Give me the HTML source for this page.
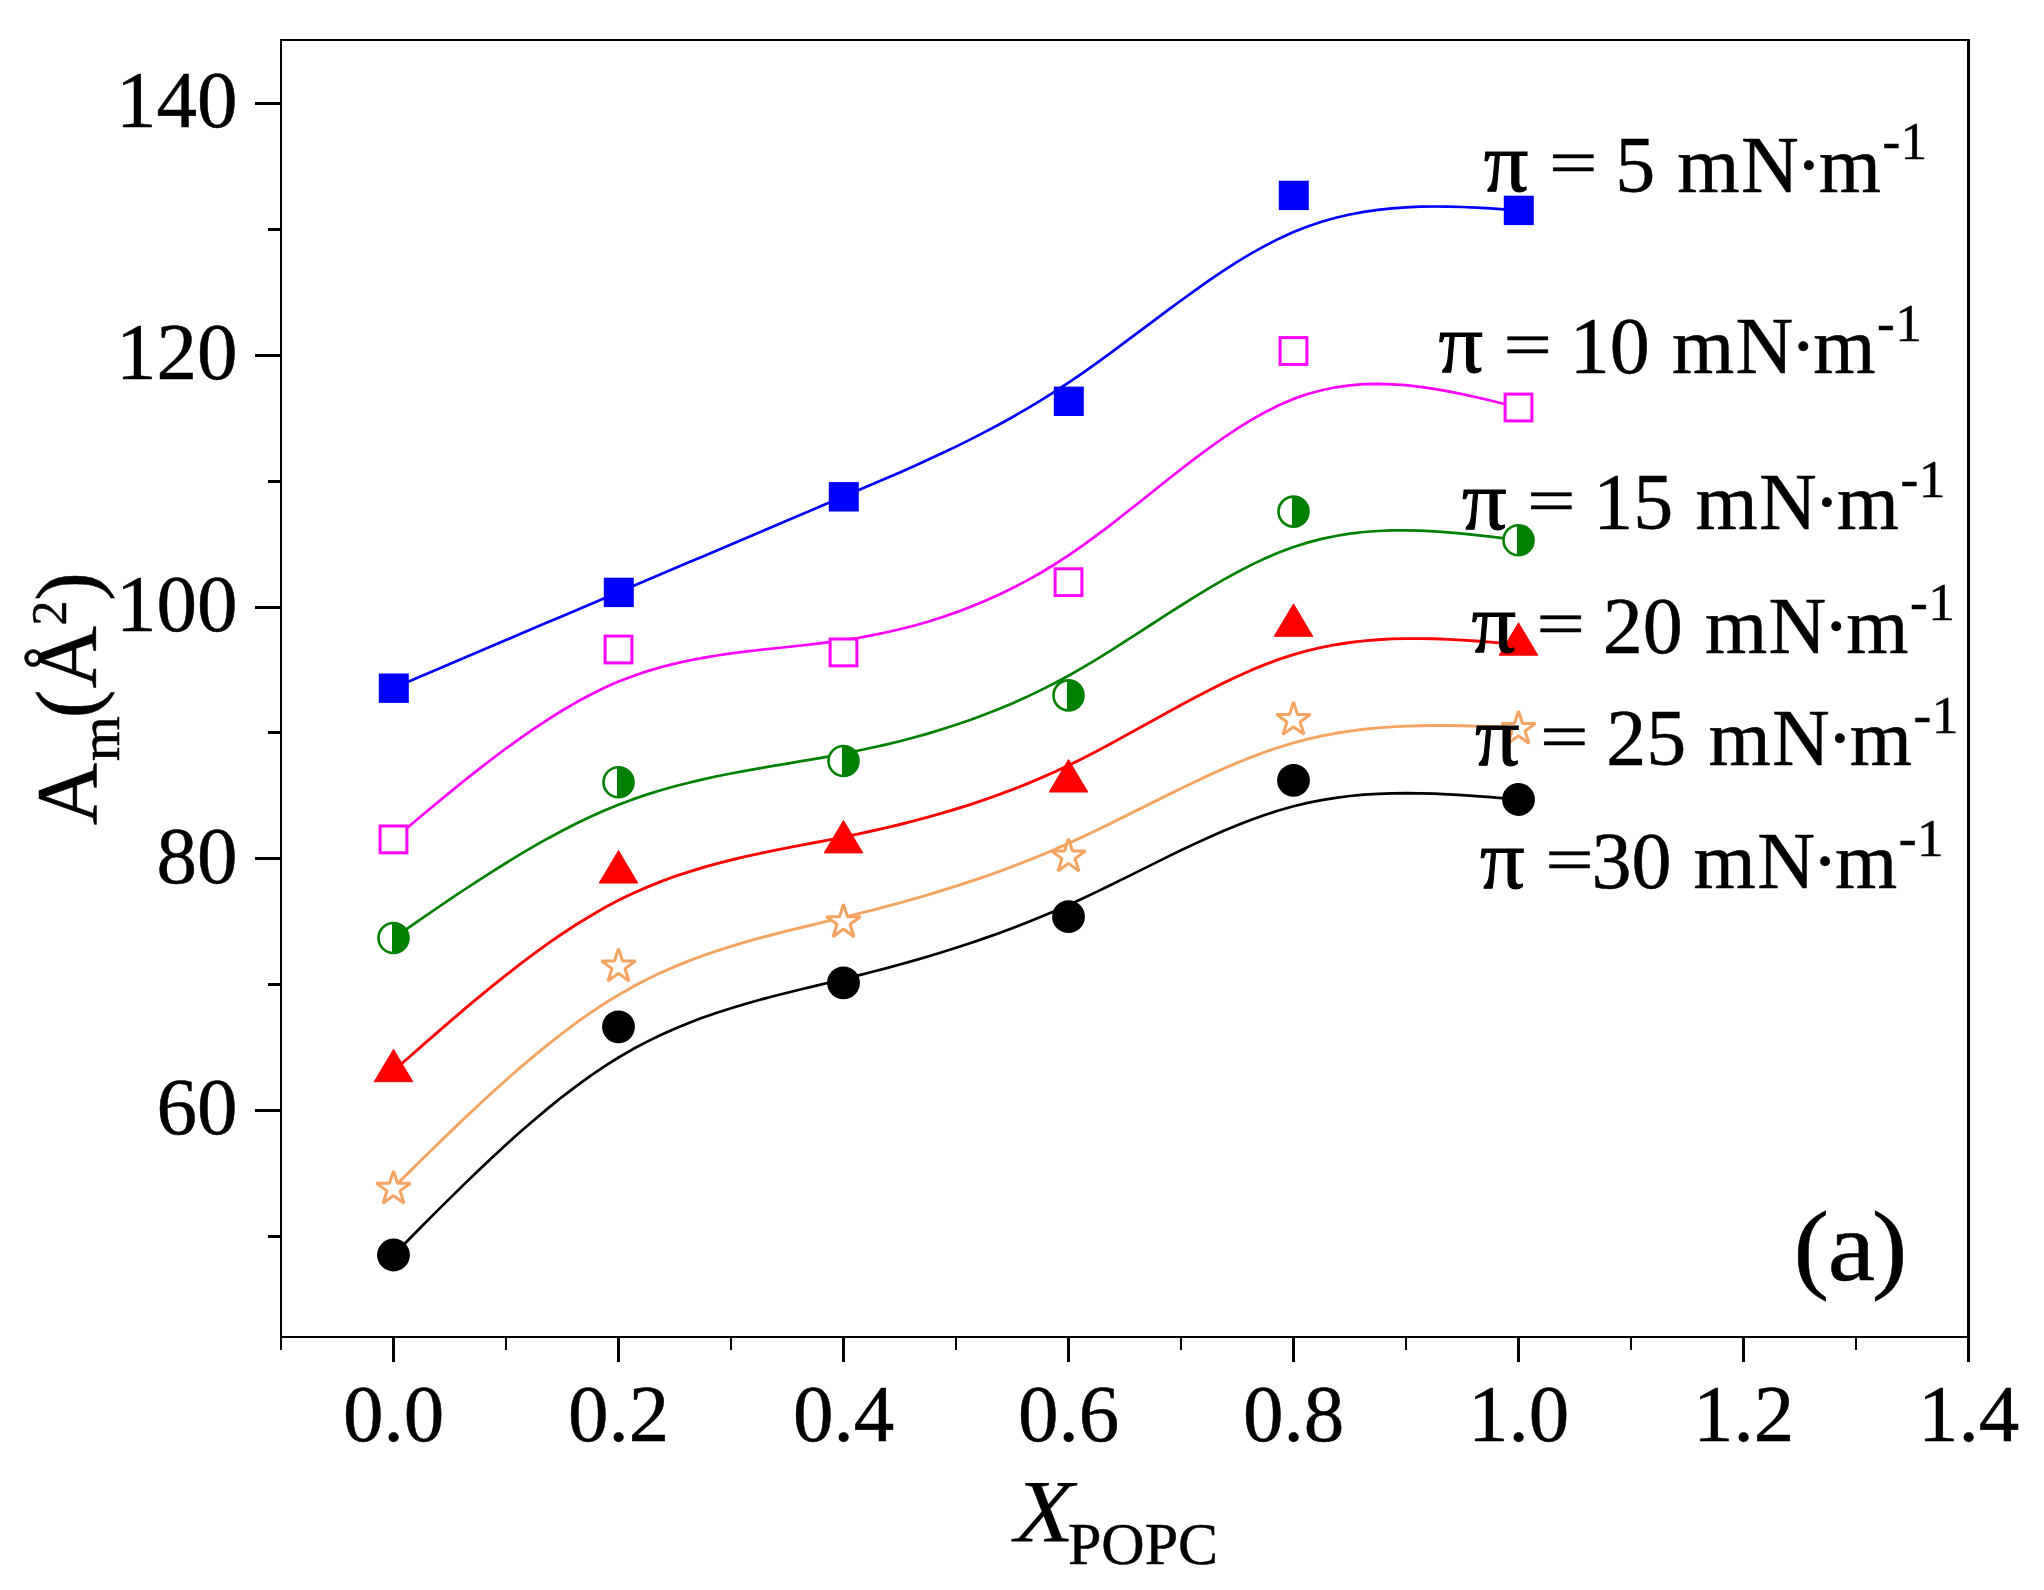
<!DOCTYPE html>
<html lang="en"><head><meta charset="utf-8"><title>Am vs XPOPC</title>
<style>html,body{margin:0;padding:0;background:#fff}body{width:2044px;height:1590px;overflow:hidden}svg{display:block}text{font-family:"Liberation Serif",serif;fill:#000;stroke:#000;stroke-width:.5px}</style></head><body>
<svg width="2044" height="1590" viewBox="0 0 2044 1590">
<rect width="2044" height="1590" fill="#fff"/>
<g fill="#000" shape-rendering="crispEdges">
<rect x="280" y="39" width="2" height="1299"/>
<rect x="280" y="39" width="1690" height="2"/>
<rect x="1967" y="39" width="3" height="1299"/>
<rect x="280" y="1336" width="1690" height="2"/>
<rect x="268" y="1234.9" width="13" height="3"/>
<rect x="255" y="1109.0" width="26" height="3"/>
<rect x="268" y="983.1" width="13" height="3"/>
<rect x="255" y="857.2" width="26" height="3"/>
<rect x="268" y="731.4" width="13" height="3"/>
<rect x="255" y="605.5" width="26" height="3"/>
<rect x="268" y="479.6" width="13" height="3"/>
<rect x="255" y="353.8" width="26" height="3"/>
<rect x="268" y="227.9" width="13" height="3"/>
<rect x="255" y="102.0" width="26" height="3"/>
<rect x="280.0" y="1337" width="2" height="13"/>
<rect x="392.0" y="1337" width="3" height="25"/>
<rect x="505.0" y="1337" width="2" height="13"/>
<rect x="617.0" y="1337" width="3" height="25"/>
<rect x="730.0" y="1337" width="2" height="13"/>
<rect x="842.0" y="1337" width="3" height="25"/>
<rect x="955.0" y="1337" width="2" height="13"/>
<rect x="1067.0" y="1337" width="3" height="25"/>
<rect x="1180.0" y="1337" width="2" height="13"/>
<rect x="1292.0" y="1337" width="3" height="25"/>
<rect x="1405.0" y="1337" width="2" height="13"/>
<rect x="1517.0" y="1337" width="3" height="25"/>
<rect x="1630.0" y="1337" width="2" height="13"/>
<rect x="1742.0" y="1337" width="3" height="25"/>
<rect x="1855.0" y="1337" width="2" height="13"/>
<rect x="1967.0" y="1337" width="3" height="25"/>
</g>
<g font-size="81">
<text x="237.5" y="1134.2" text-anchor="end">60</text>
<text x="237.5" y="882.5" text-anchor="end">80</text>
<text x="237.5" y="630.7" text-anchor="end">100</text>
<text x="237.5" y="378.9" text-anchor="end">120</text>
<text x="237.5" y="127.2" text-anchor="end">140</text>
<text x="393.5" y="1440.8" text-anchor="middle">0.0</text>
<text x="618.5" y="1440.8" text-anchor="middle">0.2</text>
<text x="843.5" y="1440.8" text-anchor="middle">0.4</text>
<text x="1068.5" y="1440.8" text-anchor="middle">0.6</text>
<text x="1293.5" y="1440.8" text-anchor="middle">0.8</text>
<text x="1518.5" y="1440.8" text-anchor="middle">1.0</text>
<text x="1743.5" y="1440.8" text-anchor="middle">1.2</text>
<text x="1968.5" y="1440.8" text-anchor="middle">1.4</text>
</g>
<text y="1541" font-size="88"><tspan x="1014.4" font-style="italic" style="stroke-width:.2px" textLength="59.7" lengthAdjust="spacingAndGlyphs">X</tspan><tspan x="1068" dy="23.3" font-size="60">POPC</tspan></text>
<g transform="translate(95.5,824) rotate(-90)"><text font-size="86" x="-0.9" y="0">A<tspan x="62.7" dy="23.8" font-size="58">m</tspan><tspan x="105.7 135.7" dy="-23.8">(Å</tspan><tspan x="198.6" dy="-29.9" font-size="50">2</tspan><tspan x="223.2" dy="29.9">)</tspan></text></g>
<path d="M393.5,688.0 L407.6,682.0 L421.6,676.0 L435.7,670.0 L449.8,664.1 L463.8,658.1 L477.9,652.1 L491.9,646.1 L506.0,640.1 L520.1,634.1 L534.1,628.1 L548.2,622.1 L562.2,616.2 L576.3,610.2 L590.4,604.2 L604.4,598.2 L618.5,592.2 L632.6,586.3 L646.6,580.3 L660.7,574.3 L674.8,568.3 L688.8,562.3 L702.9,556.4 L716.9,550.4 L731.0,544.4 L745.1,538.4 L759.1,532.5 L773.2,526.5 L787.2,520.5 L801.3,514.5 L815.4,508.6 L829.4,502.6 L843.5,496.6 L857.6,490.6 L871.6,484.6 L885.7,478.6 L899.8,472.4 L913.8,466.2 L927.9,459.8 L941.9,453.3 L956.0,446.6 L970.1,439.6 L984.1,432.4 L998.2,425.0 L1012.2,417.2 L1026.3,409.1 L1040.4,400.7 L1054.4,391.9 L1068.5,382.7 L1082.6,373.1 L1096.6,363.1 L1110.7,352.9 L1124.7,342.4 L1138.8,331.9 L1152.9,321.3 L1166.9,310.8 L1181.0,300.5 L1195.1,290.3 L1209.1,280.4 L1223.2,270.9 L1237.2,261.9 L1251.3,253.4 L1265.4,245.6 L1279.4,238.4 L1293.5,232.0 L1307.6,226.5 L1321.6,221.7 L1335.7,217.8 L1349.7,214.5 L1363.8,211.9 L1377.9,209.8 L1391.9,208.3 L1406.0,207.3 L1420.1,206.7 L1434.1,206.5 L1448.2,206.6 L1462.2,207.0 L1476.3,207.6 L1490.4,208.4 L1504.4,209.3 L1518.5,210.2" fill="none" stroke="#0000ff" stroke-width="2.7" stroke-linejoin="round"/>
<path d="M393.5,839.4 L407.6,827.5 L421.6,815.7 L435.7,804.0 L449.8,792.4 L463.8,781.0 L477.9,769.9 L491.9,759.0 L506.0,748.5 L520.1,738.3 L534.1,728.6 L548.2,719.3 L562.2,710.5 L576.3,702.3 L590.4,694.8 L604.4,687.8 L618.5,681.6 L632.6,676.2 L646.6,671.4 L660.7,667.2 L674.8,663.6 L688.8,660.5 L702.9,657.8 L716.9,655.5 L731.0,653.4 L745.1,651.7 L759.1,650.0 L773.2,648.5 L787.2,647.0 L801.3,645.5 L815.4,643.9 L829.4,642.2 L843.5,640.2 L857.6,638.0 L871.6,635.4 L885.7,632.5 L899.8,629.3 L913.8,625.7 L927.9,621.7 L941.9,617.3 L956.0,612.4 L970.1,607.1 L984.1,601.3 L998.2,595.0 L1012.2,588.2 L1026.3,580.9 L1040.4,573.0 L1054.4,564.5 L1068.5,555.4 L1082.6,545.7 L1096.6,535.4 L1110.7,524.8 L1124.7,513.8 L1138.8,502.7 L1152.9,491.5 L1166.9,480.3 L1181.0,469.2 L1195.1,458.4 L1209.1,448.0 L1223.2,438.0 L1237.2,428.6 L1251.3,419.9 L1265.4,412.0 L1279.4,405.0 L1293.5,398.9 L1307.6,394.0 L1321.6,390.2 L1335.7,387.3 L1349.7,385.4 L1363.8,384.2 L1377.9,383.9 L1391.9,384.3 L1406.0,385.2 L1420.1,386.8 L1434.1,388.8 L1448.2,391.3 L1462.2,394.1 L1476.3,397.2 L1490.4,400.5 L1504.4,404.0 L1518.5,407.5" fill="none" stroke="#ff00ff" stroke-width="2.7" stroke-linejoin="round"/>
<path d="M393.5,938.0 L407.6,928.3 L421.6,918.6 L435.7,909.0 L449.8,899.4 L463.8,890.0 L477.9,880.8 L491.9,871.8 L506.0,863.0 L520.1,854.4 L534.1,846.2 L548.2,838.2 L562.2,830.7 L576.3,823.5 L590.4,816.8 L604.4,810.5 L618.5,804.7 L632.6,799.4 L646.6,794.6 L660.7,790.3 L674.8,786.3 L688.8,782.7 L702.9,779.4 L716.9,776.3 L731.0,773.5 L745.1,770.9 L759.1,768.4 L773.2,765.9 L787.2,763.6 L801.3,761.2 L815.4,758.8 L829.4,756.3 L843.5,753.6 L857.6,750.8 L871.6,747.8 L885.7,744.6 L899.8,741.2 L913.8,737.5 L927.9,733.6 L941.9,729.3 L956.0,724.8 L970.1,720.0 L984.1,714.8 L998.2,709.3 L1012.2,703.4 L1026.3,697.1 L1040.4,690.4 L1054.4,683.3 L1068.5,675.7 L1082.6,667.7 L1096.6,659.3 L1110.7,650.6 L1124.7,641.7 L1138.8,632.6 L1152.9,623.5 L1166.9,614.4 L1181.0,605.5 L1195.1,596.7 L1209.1,588.1 L1223.2,579.9 L1237.2,572.2 L1251.3,564.9 L1265.4,558.3 L1279.4,552.3 L1293.5,547.0 L1307.6,542.6 L1321.6,538.9 L1335.7,536.0 L1349.7,533.7 L1363.8,532.0 L1377.9,531.0 L1391.9,530.4 L1406.0,530.3 L1420.1,530.7 L1434.1,531.3 L1448.2,532.3 L1462.2,533.6 L1476.3,535.1 L1490.4,536.7 L1504.4,538.4 L1518.5,540.2" fill="none" stroke="#008000" stroke-width="2.7" stroke-linejoin="round"/>
<path d="M393.5,1070.9 L407.6,1058.5 L421.6,1046.1 L435.7,1033.8 L449.8,1021.7 L463.8,1009.7 L477.9,997.9 L491.9,986.3 L506.0,975.1 L520.1,964.1 L534.1,953.6 L548.2,943.4 L562.2,933.7 L576.3,924.5 L590.4,915.9 L604.4,907.8 L618.5,900.3 L632.6,893.5 L646.6,887.3 L660.7,881.6 L674.8,876.4 L688.8,871.8 L702.9,867.5 L716.9,863.6 L731.0,860.0 L745.1,856.7 L759.1,853.6 L773.2,850.7 L787.2,847.9 L801.3,845.2 L815.4,842.5 L829.4,839.8 L843.5,837.0 L857.6,834.1 L871.6,831.0 L885.7,827.8 L899.8,824.5 L913.8,820.9 L927.9,817.2 L941.9,813.2 L956.0,809.0 L970.1,804.6 L984.1,799.9 L998.2,794.9 L1012.2,789.7 L1026.3,784.1 L1040.4,778.2 L1054.4,772.0 L1068.5,765.4 L1082.6,758.5 L1096.6,751.2 L1110.7,743.7 L1124.7,736.1 L1138.8,728.3 L1152.9,720.5 L1166.9,712.7 L1181.0,705.0 L1195.1,697.5 L1209.1,690.2 L1223.2,683.1 L1237.2,676.5 L1251.3,670.2 L1265.4,664.4 L1279.4,659.2 L1293.5,654.6 L1307.6,650.7 L1321.6,647.4 L1335.7,644.7 L1349.7,642.5 L1363.8,640.9 L1377.9,639.7 L1391.9,638.9 L1406.0,638.6 L1420.1,638.6 L1434.1,638.8 L1448.2,639.4 L1462.2,640.1 L1476.3,641.0 L1490.4,642.1 L1504.4,643.2 L1518.5,644.4" fill="none" stroke="#ff0000" stroke-width="2.9" stroke-linejoin="round"/>
<path d="M393.5,1187.5 L407.6,1173.6 L421.6,1159.8 L435.7,1146.0 L449.8,1132.4 L463.8,1118.9 L477.9,1105.7 L491.9,1092.7 L506.0,1080.1 L520.1,1067.7 L534.1,1055.8 L548.2,1044.3 L562.2,1033.3 L576.3,1022.8 L590.4,1012.9 L604.4,1003.5 L618.5,994.9 L632.6,986.9 L646.6,979.5 L660.7,972.8 L674.8,966.6 L688.8,960.9 L702.9,955.6 L716.9,950.8 L731.0,946.3 L745.1,942.1 L759.1,938.2 L773.2,934.5 L787.2,930.9 L801.3,927.5 L815.4,924.1 L829.4,920.7 L843.5,917.3 L857.6,913.9 L871.6,910.3 L885.7,906.6 L899.8,902.8 L913.8,898.8 L927.9,894.8 L941.9,890.5 L956.0,886.1 L970.1,881.5 L984.1,876.8 L998.2,871.8 L1012.2,866.6 L1026.3,861.2 L1040.4,855.5 L1054.4,849.6 L1068.5,843.4 L1082.6,836.9 L1096.6,830.3 L1110.7,823.4 L1124.7,816.4 L1138.8,809.4 L1152.9,802.4 L1166.9,795.4 L1181.0,788.5 L1195.1,781.7 L1209.1,775.1 L1223.2,768.8 L1237.2,762.8 L1251.3,757.2 L1265.4,751.9 L1279.4,747.1 L1293.5,742.9 L1307.6,739.2 L1321.6,736.0 L1335.7,733.3 L1349.7,731.1 L1363.8,729.3 L1377.9,727.9 L1391.9,726.9 L1406.0,726.1 L1420.1,725.7 L1434.1,725.5 L1448.2,725.5 L1462.2,725.7 L1476.3,726.1 L1490.4,726.5 L1504.4,727.0 L1518.5,727.6" fill="none" stroke="#f4a460" stroke-width="2.9" stroke-linejoin="round"/>
<path d="M393.5,1255.0 L407.6,1240.7 L421.6,1226.5 L435.7,1212.4 L449.8,1198.4 L463.8,1184.6 L477.9,1171.0 L491.9,1157.7 L506.0,1144.7 L520.1,1132.1 L534.1,1119.9 L548.2,1108.1 L562.2,1096.8 L576.3,1086.1 L590.4,1075.9 L604.4,1066.4 L618.5,1057.5 L632.6,1049.3 L646.6,1041.9 L660.7,1035.0 L674.8,1028.7 L688.8,1022.9 L702.9,1017.6 L716.9,1012.7 L731.0,1008.2 L745.1,1004.0 L759.1,1000.0 L773.2,996.3 L787.2,992.7 L801.3,989.3 L815.4,985.9 L829.4,982.5 L843.5,979.1 L857.6,975.6 L871.6,972.0 L885.7,968.4 L899.8,964.5 L913.8,960.6 L927.9,956.5 L941.9,952.2 L956.0,947.8 L970.1,943.2 L984.1,938.4 L998.2,933.4 L1012.2,928.2 L1026.3,922.8 L1040.4,917.1 L1054.4,911.2 L1068.5,905.0 L1082.6,898.5 L1096.6,891.9 L1110.7,885.0 L1124.7,878.1 L1138.8,871.1 L1152.9,864.1 L1166.9,857.1 L1181.0,850.3 L1195.1,843.6 L1209.1,837.2 L1223.2,831.0 L1237.2,825.2 L1251.3,819.7 L1265.4,814.7 L1279.4,810.2 L1293.5,806.2 L1307.6,802.9 L1321.6,800.1 L1335.7,797.8 L1349.7,796.0 L1363.8,794.7 L1377.9,793.8 L1391.9,793.3 L1406.0,793.1 L1420.1,793.3 L1434.1,793.7 L1448.2,794.3 L1462.2,795.1 L1476.3,796.1 L1490.4,797.2 L1504.4,798.3 L1518.5,799.5" fill="none" stroke="#000000" stroke-width="2.7" stroke-linejoin="round"/>
<rect x="378.8" y="673.5" width="30" height="29.4" fill="#0000ff"/>
<rect x="603.8" y="577.7" width="30" height="29.4" fill="#0000ff"/>
<rect x="828.8" y="482.1" width="30" height="29.4" fill="#0000ff"/>
<rect x="1053.8" y="386.6" width="30" height="29.4" fill="#0000ff"/>
<rect x="1278.8" y="180.7" width="30" height="29.4" fill="#0000ff"/>
<rect x="1503.8" y="195.7" width="30" height="29.4" fill="#0000ff"/>
<rect x="380.1" y="826.0" width="26.8" height="26.8" fill="#fff" stroke="#ff00ff" stroke-width="3"/>
<rect x="605.1" y="636.1" width="26.8" height="26.8" fill="#fff" stroke="#ff00ff" stroke-width="3"/>
<rect x="830.1" y="639.0" width="26.8" height="26.8" fill="#fff" stroke="#ff00ff" stroke-width="3"/>
<rect x="1055.1" y="568.8" width="26.8" height="26.8" fill="#fff" stroke="#ff00ff" stroke-width="3"/>
<rect x="1280.1" y="337.6" width="26.8" height="26.8" fill="#fff" stroke="#ff00ff" stroke-width="3"/>
<rect x="1505.1" y="394.1" width="26.8" height="26.8" fill="#fff" stroke="#ff00ff" stroke-width="3"/>
<circle cx="393.5" cy="938.0" r="15" fill="#fff" stroke="#008000" stroke-width="2.6"/>
<path d="M392.0,923.0 L393.5,923.0 A15,15 0 0 1 393.5,953.0 L392.0,953.0 Z" fill="#008000"/>
<circle cx="618.5" cy="782.3" r="15" fill="#fff" stroke="#008000" stroke-width="2.6"/>
<path d="M617.0,767.3 L618.5,767.3 A15,15 0 0 1 618.5,797.3 L617.0,797.3 Z" fill="#008000"/>
<circle cx="843.5" cy="761.0" r="15" fill="#fff" stroke="#008000" stroke-width="2.6"/>
<path d="M842.0,746.0 L843.5,746.0 A15,15 0 0 1 843.5,776.0 L842.0,776.0 Z" fill="#008000"/>
<circle cx="1068.5" cy="695.4" r="15" fill="#fff" stroke="#008000" stroke-width="2.6"/>
<path d="M1067.0,680.4 L1068.5,680.4 A15,15 0 0 1 1068.5,710.4 L1067.0,710.4 Z" fill="#008000"/>
<circle cx="1293.5" cy="511.6" r="15" fill="#fff" stroke="#008000" stroke-width="2.6"/>
<path d="M1292.0,496.6 L1293.5,496.6 A15,15 0 0 1 1293.5,526.6 L1292.0,526.6 Z" fill="#008000"/>
<circle cx="1518.5" cy="540.2" r="15" fill="#fff" stroke="#008000" stroke-width="2.6"/>
<path d="M1517.0,525.2 L1518.5,525.2 A15,15 0 0 1 1518.5,555.2 L1517.0,555.2 Z" fill="#008000"/>
<polygon points="393.5,1049.3 412.8,1081.7 374.2,1081.7" fill="#ff0000" stroke="#ff0000" stroke-width="1" stroke-linejoin="round"/>
<polygon points="618.5,850.6 637.8,883.0 599.2,883.0" fill="#ff0000" stroke="#ff0000" stroke-width="1" stroke-linejoin="round"/>
<polygon points="843.5,820.5 862.8,852.9 824.2,852.9" fill="#ff0000" stroke="#ff0000" stroke-width="1" stroke-linejoin="round"/>
<polygon points="1068.5,759.6 1087.8,792.0 1049.2,792.0" fill="#ff0000" stroke="#ff0000" stroke-width="1" stroke-linejoin="round"/>
<polygon points="1293.5,603.9 1312.8,636.3 1274.2,636.3" fill="#ff0000" stroke="#ff0000" stroke-width="1" stroke-linejoin="round"/>
<polygon points="1518.5,622.8 1537.8,655.2 1499.2,655.2" fill="#ff0000" stroke="#ff0000" stroke-width="1" stroke-linejoin="round"/>
<polygon points="393.5,1170.9 397.5,1183.3 410.5,1183.3 400.0,1190.9 404.0,1203.3 393.5,1195.6 383.0,1203.3 387.0,1190.9 376.5,1183.3 389.5,1183.3" fill="#fff" stroke="#f4a460" stroke-width="3" stroke-linejoin="bevel"/>
<polygon points="618.5,948.6 622.5,961.0 635.5,961.0 625.0,968.6 629.0,981.0 618.5,973.4 608.0,981.0 612.0,968.6 601.5,961.0 614.5,961.0" fill="#fff" stroke="#f4a460" stroke-width="3" stroke-linejoin="bevel"/>
<polygon points="843.5,904.3 847.5,916.7 860.5,916.7 850.0,924.3 854.0,936.7 843.5,929.0 833.0,936.7 837.0,924.3 826.5,916.7 839.5,916.7" fill="#fff" stroke="#f4a460" stroke-width="3" stroke-linejoin="bevel"/>
<polygon points="1068.5,838.6 1072.5,851.0 1085.5,851.0 1075.0,858.6 1079.0,871.0 1068.5,863.4 1058.0,871.0 1062.0,858.6 1051.5,851.0 1064.5,851.0" fill="#fff" stroke="#f4a460" stroke-width="3" stroke-linejoin="bevel"/>
<polygon points="1293.5,702.0 1297.5,714.4 1310.5,714.4 1300.0,722.0 1304.0,734.4 1293.5,726.8 1283.0,734.4 1287.0,722.0 1276.5,714.4 1289.5,714.4" fill="#fff" stroke="#f4a460" stroke-width="3" stroke-linejoin="bevel"/>
<polygon points="1518.5,711.0 1522.5,723.4 1535.5,723.4 1525.0,731.0 1529.0,743.4 1518.5,735.8 1508.0,743.4 1512.0,731.0 1501.5,723.4 1514.5,723.4" fill="#fff" stroke="#f4a460" stroke-width="3" stroke-linejoin="bevel"/>
<circle cx="393.5" cy="1255.0" r="16.4" fill="#000000"/>
<circle cx="618.5" cy="1026.8" r="16.4" fill="#000000"/>
<circle cx="843.5" cy="982.8" r="16.4" fill="#000000"/>
<circle cx="1068.5" cy="916.7" r="16.4" fill="#000000"/>
<circle cx="1293.5" cy="780.3" r="16.4" fill="#000000"/>
<circle cx="1518.5" cy="799.5" r="16.4" fill="#000000"/>
<text y="191.6" font-size="80"><tspan x="1483.8" dy="-0.4" font-size="84" textLength="44.6" lengthAdjust="spacingAndGlyphs" style="stroke-width:1px">π</tspan> <tspan x="1548.9" dy="-5.8" font-size="66" textLength="48.5" lengthAdjust="spacingAndGlyphs">=</tspan> <tspan dy="6.2" x="1615.2 1655.2 1677.3 1740.9 1795.5 1818.7">5 mN·m</tspan><tspan font-size="53.3" dy="-32.2" x="1882.5 1900.6">-1</tspan></text>
<text y="372.7" font-size="80"><tspan x="1438.4" dy="-0.4" font-size="84" textLength="44.6" lengthAdjust="spacingAndGlyphs" style="stroke-width:1px">π</tspan> <tspan x="1503.5" dy="-5.8" font-size="66" textLength="48.5" lengthAdjust="spacingAndGlyphs">=</tspan> <tspan dy="6.2" x="1569.8 1609.8 1649.8 1671.9 1735.5 1790.1 1813.3">10 mN·m</tspan><tspan font-size="53.3" dy="-32.2" x="1877.1 1895.2">-1</tspan></text>
<text y="529.3" font-size="80"><tspan x="1461.9" dy="-0.4" font-size="84" textLength="44.6" lengthAdjust="spacingAndGlyphs" style="stroke-width:1px">π</tspan> <tspan x="1527.0" dy="-5.8" font-size="66" textLength="48.5" lengthAdjust="spacingAndGlyphs">=</tspan> <tspan dy="6.2" x="1593.3 1633.3 1673.3 1695.4 1759.0 1813.6 1836.8">15 mN·m</tspan><tspan font-size="53.3" dy="-32.2" x="1900.6 1918.7">-1</tspan></text>
<text y="652.5" font-size="80"><tspan x="1471.4" dy="-0.4" font-size="84" textLength="44.6" lengthAdjust="spacingAndGlyphs" style="stroke-width:1px">π</tspan> <tspan x="1536.5" dy="-5.8" font-size="66" textLength="48.5" lengthAdjust="spacingAndGlyphs">=</tspan> <tspan dy="6.2" x="1602.8 1642.8 1682.8 1704.9 1768.5 1823.1 1846.3">20 mN·m</tspan><tspan font-size="53.3" dy="-32.2" x="1910.1 1928.2">-1</tspan></text>
<text y="765" font-size="80"><tspan x="1474.9" dy="-0.4" font-size="84" textLength="44.6" lengthAdjust="spacingAndGlyphs" style="stroke-width:1px">π</tspan> <tspan x="1540.0" dy="-5.8" font-size="66" textLength="48.5" lengthAdjust="spacingAndGlyphs">=</tspan> <tspan dy="6.2" x="1606.3 1646.3 1686.3 1708.4 1772.0 1826.6 1849.8">25 mN·m</tspan><tspan font-size="53.3" dy="-32.2" x="1913.6 1931.7">-1</tspan></text>
<text y="888" font-size="80"><tspan x="1480.1" dy="-0.4" font-size="84" textLength="44.6" lengthAdjust="spacingAndGlyphs" style="stroke-width:1px">π</tspan> <tspan x="1545.2" dy="-5.8" font-size="66" textLength="48.5" lengthAdjust="spacingAndGlyphs">=</tspan><tspan dy="6.2" x="1591.5 1631.5 1671.5 1693.6 1757.2 1811.8 1835.0">30 mN·m</tspan><tspan font-size="53.3" dy="-32.2" x="1898.8 1916.9">-1</tspan></text>
<text y="1279.6" font-size="99"><tspan x="1793.6" textLength="35.6" lengthAdjust="spacingAndGlyphs">(</tspan><tspan x="1827.7" textLength="47.4" lengthAdjust="spacingAndGlyphs">a</tspan><tspan x="1871.8" textLength="35.6" lengthAdjust="spacingAndGlyphs">)</tspan></text>
</svg></body></html>
